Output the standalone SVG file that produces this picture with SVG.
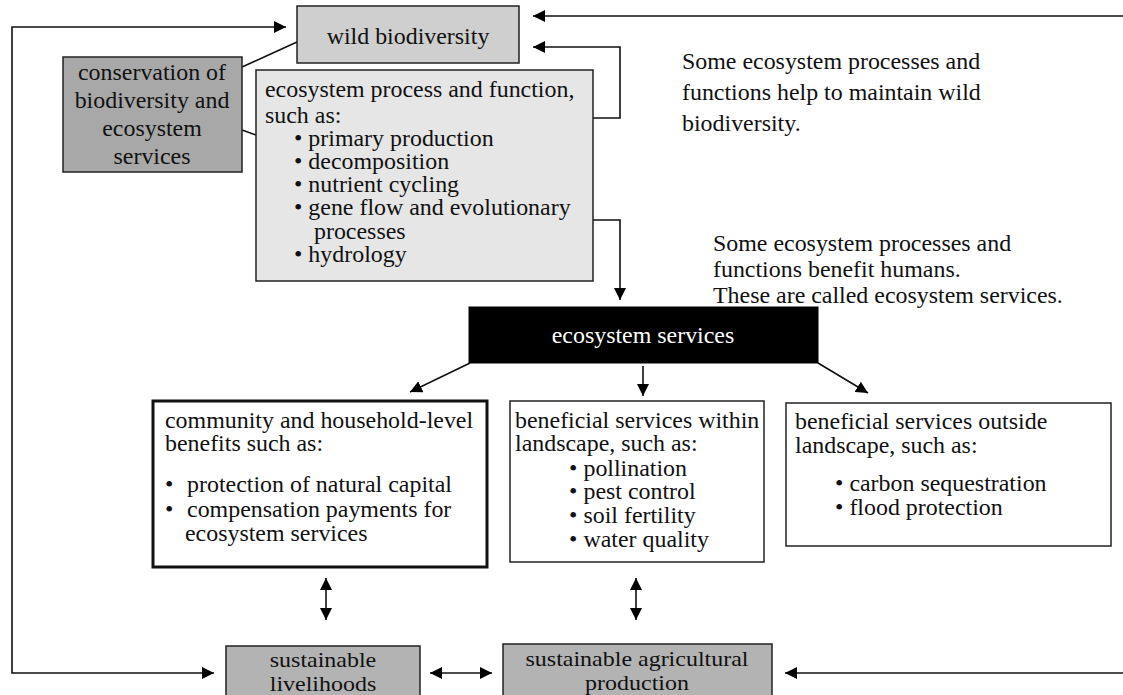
<svg xmlns="http://www.w3.org/2000/svg" width="1123" height="695" viewBox="0 0 1123 695">
<defs>
<style>
.t{font-family:"Liberation Serif","Times New Roman",serif;font-size:23px;fill:#111}
.b{font-size:22px}
.w{fill:#fff}
.box{stroke:#222;stroke-width:1.5}
.c{fill:none;stroke:#111;stroke-width:1.6}
</style>
<marker id="ah" markerUnits="userSpaceOnUse" markerWidth="13" markerHeight="12" refX="12" refY="6" orient="auto-start-reverse">
<path d="M0,0 L12,6 L0,12 z" fill="#000"/>
</marker>
</defs>
<rect width="1123" height="695" fill="#fff"/>
<g id="connectors">
<path class="c" d="M286,27 H12 V673 H214" marker-start="url(#ah)" marker-end="url(#ah)"/>
<path class="c" d="M1123,16 H533" marker-end="url(#ah)"/>
<path class="c" d="M593,118 H620 V47 H533" marker-end="url(#ah)"/>
<path class="c" d="M593,220 H620 V300" marker-end="url(#ah)"/>
<path class="c" d="M242,67 L297,42"/>
<path class="c" d="M242,130 L256,135"/>
<path class="c" d="M470,363 L410,392" marker-end="url(#ah)"/>
<path class="c" d="M643,366 V396" marker-end="url(#ah)"/>
<path class="c" d="M818,363 L868,393" marker-end="url(#ah)"/>
<path class="c" d="M326,578 V620" marker-start="url(#ah)" marker-end="url(#ah)"/>
<path class="c" d="M636,578 V620" marker-start="url(#ah)" marker-end="url(#ah)"/>
<path class="c" d="M430,673 H492" marker-start="url(#ah)" marker-end="url(#ah)"/>
<path class="c" d="M1123,673 H785" marker-end="url(#ah)"/>
</g>
<g id="wild">
<rect class="box" x="297" y="6" width="222" height="57" fill="#cfcfcf"/>
<text class="t" text-anchor="middle" transform="translate(408,0) scale(1.04,1)"><tspan x="0" y="44">wild biodiversity</tspan></text>
</g>
<g id="conservation">
<rect class="box" x="63" y="57" width="179" height="115" fill="#a8a8a8"/>
<text class="t" text-anchor="middle" transform="translate(152,0) scale(1.04,1)"><tspan x="0" y="80">conservation of</tspan><tspan x="0" y="108">biodiversity and</tspan><tspan x="0" y="136">ecosystem</tspan><tspan x="0" y="164">services</tspan></text>
</g>
<g id="process">
<rect class="box" x="256" y="70" width="337" height="211" fill="#e6e6e6"/>
<text class="t" transform="translate(265,0) scale(1.04,1)"><tspan x="0" y="97">ecosystem process and function,</tspan><tspan x="0" y="123">such as:</tspan><tspan x="27.9" y="146">• primary production</tspan><tspan x="27.9" y="169">• decomposition</tspan><tspan x="27.9" y="192">• nutrient cycling</tspan><tspan x="27.9" y="215">• gene flow and evolutionary</tspan><tspan x="47.1" y="239">processes</tspan><tspan x="27.9" y="262">• hydrology</tspan></text>
</g>
<g id="note1">
<text class="t" transform="translate(682,0) scale(1.04,1)"><tspan x="0" y="69">Some ecosystem processes and</tspan><tspan x="0" y="100">functions help to maintain wild</tspan><tspan x="0" y="131">biodiversity.</tspan></text>
</g>
<g id="note2">
<text class="t" transform="translate(713,0) scale(1.04,1)"><tspan x="0" y="251">Some ecosystem processes and</tspan><tspan x="0" y="277">functions benefit humans.</tspan><tspan x="0" y="303">These are called ecosystem services.</tspan></text>
</g>
<g id="services">
<rect x="469" y="307" width="349" height="56" fill="#000" stroke="#000"/>
<text class="t w" text-anchor="middle" transform="translate(643,0) scale(1.04,1)"><tspan x="0" y="343">ecosystem services</tspan></text>
</g>
<g id="community">
<rect x="153" y="401" width="334" height="166" fill="#fff" stroke="#111" stroke-width="3"/>
<text class="t" transform="translate(165,0) scale(1.04,1)"><tspan x="0" y="428">community and household-level</tspan><tspan x="0" y="451">benefits such as:</tspan><tspan x="0" y="492">•</tspan><tspan x="21.2" y="492">protection of natural capital</tspan><tspan x="0" y="517">•</tspan><tspan x="21.2" y="517">compensation payments for</tspan><tspan x="19.2" y="541">ecosystem services</tspan></text>
</g>
<g id="within">
<rect class="box" x="510" y="401" width="254" height="161" fill="#fff"/>
<text class="t" transform="translate(515,0) scale(1.04,1)"><tspan x="0" y="428">beneficial services within</tspan><tspan x="0" y="451">landscape, such as:</tspan><tspan x="52" y="476">• pollination</tspan><tspan x="52" y="499">• pest control</tspan><tspan x="52" y="523">• soil fertility</tspan><tspan x="52" y="547">• water quality</tspan></text>
</g>
<g id="outside">
<rect class="box" x="786" y="403" width="325" height="143" fill="#fff"/>
<text class="t" transform="translate(795,0) scale(1.04,1)"><tspan x="0" y="429">beneficial services outside</tspan><tspan x="0" y="453">landscape, such as:</tspan><tspan x="38.5" y="491">• carbon sequestration</tspan><tspan x="38.5" y="515">• flood protection</tspan></text>
</g>
<g id="livelihoods">
<rect class="box" x="226" y="646" width="194" height="53" fill="#b3b3b3"/>
<text class="t b" text-anchor="middle" transform="translate(323,0) scale(1.09,1)"><tspan x="0" y="667">sustainable</tspan><tspan x="0" y="691">livelihoods</tspan></text>
</g>
<g id="agriculture">
<rect class="box" x="503" y="644" width="269" height="55" fill="#b3b3b3"/>
<text class="t b" text-anchor="middle" transform="translate(637,0) scale(1.09,1)"><tspan x="0" y="666">sustainable agricultural</tspan><tspan x="0" y="690">production</tspan></text>
</g>
</svg>
